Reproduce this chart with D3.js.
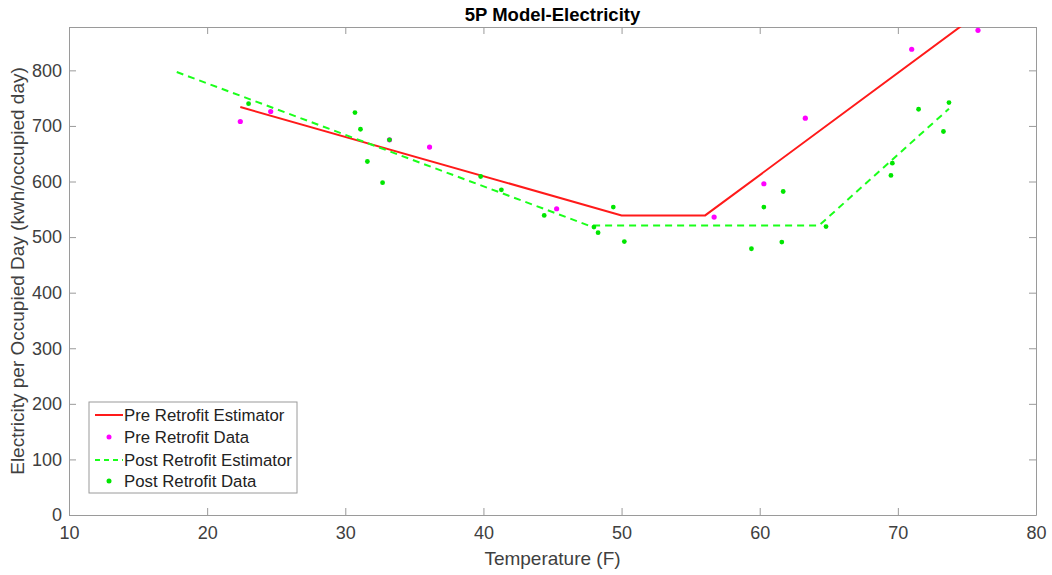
<!DOCTYPE html>
<html>
<head>
<meta charset="utf-8">
<script src="https://cdn.jsdelivr.net/npm/d3@7"></script>
<style>
body { margin: 0; background: #fff; }
svg text { font-family: "Liberation Sans", Arial, sans-serif; }
</style>
</head>
<body>
<div id="wrapper"></div>
<script>
// pre retrofit estimator (5P model) breakpoints
const preEstX = [22.4, 50.0, 56.05, 75.8];
const preEstY = [734, 539, 539, 902];
// post retrofit estimator
const postEstX = [17.8, 47.6, 64.3, 73.7];
const postEstY = [797, 521, 521, 731];

const preDataX = [22.4, 24.6, 33.2, 36.1, 45.3, 56.7, 60.3, 63.3, 71.0, 75.8];
const preDataY = [708, 726, 675, 662, 551, 536, 596, 714, 838, 872];

const postDataX = [23.0, 30.7, 31.1, 31.6, 32.7, 33.2, 39.8, 41.3, 44.4, 48.0, 48.3, 49.4, 50.2, 59.4, 60.3, 61.6, 61.7, 64.8, 69.5, 69.6, 71.5, 73.3, 73.7];
const postDataY = [740, 724, 694, 636, 598, 675, 609, 585, 539, 518, 508, 554, 492, 479, 554, 491, 582, 519, 611, 633, 730, 690, 742];

const xTicks = [10, 20, 30, 40, 50, 60, 70, 80];
const yTicks = [0, 100, 200, 300, 400, 500, 600, 700, 800];

const legendLabels = ["Pre Retrofit Estimator", "Pre Retrofit Data", "Post Retrofit Estimator", "Post Retrofit Data"];

let dimensions = {
  width: 1052,
  height: 575,
  margin: { top: 27, right: 16, bottom: 60, left: 69 },
}
dimensions.boundedWidth = dimensions.width - dimensions.margin.left - dimensions.margin.right;
dimensions.boundedHeight = dimensions.height - dimensions.margin.top - dimensions.margin.bottom;

const svg = d3.select("#wrapper").append("svg")
  .attr("width", dimensions.width)
  .attr("height", dimensions.height);

const bounds = svg.append("g")
  .attr("transform", `translate(${dimensions.margin.left},${dimensions.margin.top})`);

const xScale = d3.scaleLinear().domain([10, 80]).range([0, dimensions.boundedWidth]);
const yScale = d3.scaleLinear().domain([0, 878]).range([dimensions.boundedHeight, 0]);

bounds.append("clipPath").attr("id", "clip")
  .append("rect").attr("width", dimensions.boundedWidth).attr("height", dimensions.boundedHeight);

const axisColor = "#9a9a9a";
const labelColor = "#404040";

function styleAxis(g, showLabels) {
  g.select(".domain").attr("stroke", axisColor);
  g.selectAll(".tick line").attr("stroke", axisColor);
  g.selectAll(".tick text")
    .attr("fill", labelColor)
    .style("font-size", "18px")
    .style("display", showLabels ? null : "none");
}

bounds.append("g")
  .attr("transform", `translate(0,${dimensions.boundedHeight})`)
  .call(d3.axisBottom(xScale).tickValues(xTicks).tickFormat(d3.format("d")).tickSizeInner(-7).tickSizeOuter(0).tickPadding(11))
  .call(g => styleAxis(g, true));
bounds.append("g")
  .call(d3.axisTop(xScale).tickValues(xTicks).tickSizeInner(-7).tickSizeOuter(0))
  .call(g => styleAxis(g, false));
bounds.append("g")
  .call(d3.axisLeft(yScale).tickValues(yTicks).tickFormat(d3.format("d")).tickSizeInner(-7).tickSizeOuter(0).tickPadding(7))
  .call(g => styleAxis(g, true));
bounds.append("g")
  .attr("transform", `translate(${dimensions.boundedWidth},0)`)
  .call(d3.axisRight(yScale).tickValues(yTicks).tickSizeInner(-7).tickSizeOuter(0))
  .call(g => styleAxis(g, false));

const line = d3.line().x(d => xScale(d[0])).y(d => yScale(d[1]));
const plot = bounds.append("g").attr("clip-path", "url(#clip)");

plot.append("path")
  .attr("d", line(d3.zip(preEstX, preEstY)))
  .attr("fill", "none").attr("stroke", "#ff1a1a").attr("stroke-width", 2);

plot.append("path")
  .attr("d", line(d3.zip(postEstX, postEstY)))
  .attr("fill", "none").attr("stroke", "#1aff1a").attr("stroke-width", 2)
  .attr("stroke-dasharray", "7,5");

plot.selectAll(".pre").data(d3.zip(preDataX, preDataY)).join("circle")
  .attr("cx", d => xScale(d[0])).attr("cy", d => yScale(d[1]))
  .attr("r", 2.6).attr("fill", "#ff00ff");

plot.selectAll(".post").data(d3.zip(postDataX, postDataY)).join("circle")
  .attr("cx", d => xScale(d[0])).attr("cy", d => yScale(d[1]))
  .attr("r", 2.4).attr("fill", "#00e600");

// title and axis labels
svg.append("text")
  .attr("x", dimensions.margin.left + dimensions.boundedWidth / 2)
  .attr("y", 21)
  .attr("text-anchor", "middle")
  .style("font-size", "18.5px").style("font-weight", "bold").attr("fill", "#000")
  .text("5P Model-Electricity");

svg.append("text")
  .attr("x", dimensions.margin.left + dimensions.boundedWidth / 2)
  .attr("y", 565)
  .attr("text-anchor", "middle")
  .style("font-size", "19px").attr("fill", labelColor)
  .text("Temperature (F)");

svg.append("text")
  .attr("transform", `translate(24,${dimensions.margin.top + dimensions.boundedHeight / 2}) rotate(-90)`)
  .attr("text-anchor", "middle")
  .style("font-size", "19px").attr("fill", labelColor)
  .text("Electricity per Occupied Day (kwh/occupied day)");

// legend
const legend = svg.append("g").attr("transform", "translate(89,402)");
legend.append("rect")
  .attr("width", 208).attr("height", 91)
  .attr("fill", "#fff").attr("stroke", axisColor);

const rowY = [13, 35, 58, 79];
legendLabels.forEach((label, i) => {
  const row = legend.append("g").attr("transform", `translate(0,${rowY[i]})`);
  if (i === 0 || i === 2) {
    row.append("line").attr("x1", 6).attr("x2", 34).attr("y1", 0).attr("y2", 0)
      .attr("stroke", i === 0 ? "#ff1a1a" : "#1aff1a").attr("stroke-width", 2)
      .attr("stroke-dasharray", i === 2 ? "5,4" : null);
  } else {
    row.append("circle").attr("cx", 20).attr("cy", 0).attr("r", 2.5)
      .attr("fill", i === 1 ? "#ff00ff" : "#00e600");
  }
  row.append("text").attr("x", 35).attr("y", 6)
    .style("font-size", "16.8px").attr("fill", "#222")
    .text(label);
});
</script>
</body>
</html>
